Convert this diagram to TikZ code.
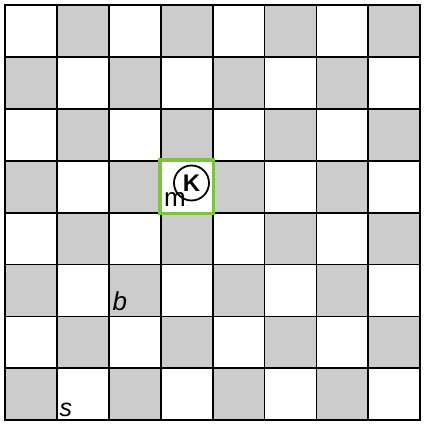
\documentclass[tikz,border=0pt]{standalone}
\usepackage{fontspec}
\setmainfont{Liberation Sans}
\usetikzlibrary{positioning}
\definecolor{boardgray}{HTML}{CCCCCC}
\definecolor{markgreen}{HTML}{7DC242}

\begin{document}
\begin{tikzpicture}[
  x=1pt, y=-1pt,
  font=\fontsize{26}{30}\selectfont,
  cell/.style={draw=black, line width=1.8pt, minimum size=51.9pt,
               inner sep=0pt, outer sep=0pt},
  darkcell/.style={cell, fill=boardgray},
  lightcell/.style={cell, fill=white},
  markbox/.style={draw=markgreen, line width=3.8pt, minimum size=53.5pt,
                  inner sep=0pt},
  piece/.style={circle, draw=black, line width=1.8pt, minimum size=35pt,
                inner sep=0pt, font=\fontsize{24}{28}\selectfont\bfseries},
  tag/.style={anchor=base west, inner sep=0pt},
]
\useasboundingbox (0,0) rectangle (424,425);

% board: 8 x 8 squares
\foreach \r in {0,...,7} {
  \foreach \c in {0,...,7} {
    \pgfmathtruncatemacro{\odd}{mod(\r+\c,2)}
    \ifnum\odd=1
      \node[darkcell] (sq-\r-\c) at ({5+51.9*(\c+0.5)}, {5+51.9*(\r+0.5)}) {};
    \else
      \node[lightcell] (sq-\r-\c) at ({5+51.9*(\c+0.5)}, {5+51.9*(\r+0.5)}) {};
    \fi
  }
}
\draw[line width=1.8pt] (sq-0-0.north west) rectangle (sq-7-7.south east);

% marked square with the king
\node[markbox] (mark) at (sq-3-3) {};
\node[piece] (king) at (191.5,183) {K};
\node[tag] (mlbl) at (164,206) {m};

% letters
\node[tag, font=\fontsize{26}{30}\selectfont\itshape] (blbl) at (112.5,310) {b};
\node[tag, font=\fontsize{25}{30}\selectfont\itshape] (slbl) at (59.5,416.5) {s};
\end{tikzpicture}
\end{document}
